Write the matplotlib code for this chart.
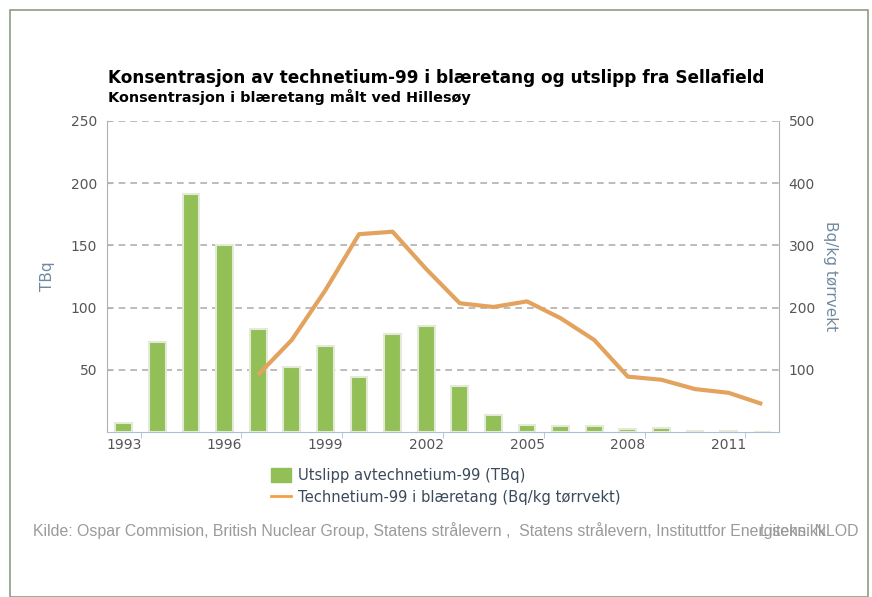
import numpy as np
import matplotlib.pyplot as plt
from matplotlib.patches import Rectangle, Patch
from matplotlib.lines import Line2D

years = list(range(1993, 2013))
utslipp = [7, 72, 191, 150, 83, 52, 69, 44, 79, 85, 37, 14, 6, 5, 5, 2.5, 3, 1, 1, 0]
tc_years = list(range(1997, 2013))
blaeretang = [92, 148, 228, 318, 322, 262, 207, 201, 210, 183, 148, 89, 84, 69, 63, 45]

x_labels = ['1993', '1996', '1999', '2002', '2005', '2008', '2011']

green = '#93bf57'
orange = '#e3a35e'
axis_col = '#6f8aa0'
tick_col = '#555555'

fig = plt.figure(figsize=(8.72, 5.97), dpi=100)
fig.patches.append(Rectangle((10 / 872, 0), 858 / 872, 1 - 10 / 597, transform=fig.transFigure,
                             fill=False, edgecolor='#8c9c84', linewidth=1.2))

ax = fig.add_axes([107 / 872, 1 - 432 / 597, 672 / 872, 311 / 597])
xs = np.arange(len(years))
ax.bar(xs, utslipp, width=0.5, color=green, edgecolor='#e4ead8', linewidth=1.5, zorder=3)
ax.set_xlim(-0.5, len(years) - 0.5)
ax.set_ylim(0, 250)
ax.set_yticks([50, 100, 150, 200, 250])
ax.yaxis.grid(True, linestyle=(0, (4, 3)), color='#b0b0b0', linewidth=1.2, zorder=0)
ax.set_xticks(xs[::3])
ax.set_xticklabels(x_labels)
ax.set_xticks(xs[::3] + 0.5, minor=True)
ax.tick_params(axis='x', which='major', length=0, pad=4, labelsize=10, labelcolor=tick_col)
ax.tick_params(axis='x', which='minor', length=4, color='#a8c0d8')
ax.tick_params(axis='y', length=3, direction='in', color='#b0b0b0', pad=7,
               labelsize=10, labelcolor=tick_col)
ax.set_ylabel('TBq', color=axis_col, fontsize=11)
ax.yaxis.set_label_coords(-52 / 672, 0.5)
ax.spines['top'].set_visible(False)
ax.spines['left'].set_color('#b0b0b0')
ax.spines['right'].set_color('#b0b0b0')
ax.spines['bottom'].set_color('#a8c0d8')

ax2 = ax.twinx()
tx = np.array([years.index(y) for y in tc_years])
ax2.plot(tx, blaeretang, color=orange, linewidth=3, solid_capstyle='butt', zorder=4)
ax2.set_ylim(0, 500)
ax2.set_yticks([100, 200, 300, 400, 500])
ax2.tick_params(axis='y', length=0, pad=7, labelsize=10, labelcolor=tick_col)
ax2.set_ylabel('Bq/kg tørrvekt', color=axis_col, fontsize=11, rotation=-90, va='center')
ax2.yaxis.set_label_coords(1 + 51 / 672, 0.5)
for s in ['top', 'left', 'right', 'bottom']:
    ax2.spines[s].set_visible(False)

fig.text(108 / 872, 1 - 78 / 597, 'Konsentrasjon av technetium-99 i blæretang og utslipp fra Sellafield',
         fontsize=12.2, fontweight='bold', va='center', ha='left')
fig.text(108 / 872, 1 - 97 / 597, 'Konsentrasjon i blæretang målt ved Hillesøy',
         fontsize=10.4, fontweight='bold', va='center', ha='left')

handles = [Patch(facecolor=green, edgecolor=green),
           Line2D([0], [0], color='#f5a040', linewidth=2)]
fig.legend(handles, ['Utslipp avtechnetium-99 (TBq)', 'Technetium-99 i blæretang (Bq/kg tørrvekt)'],
           loc='upper left', bbox_to_anchor=(264 / 872, 1 - 461 / 597), frameon=False,
           fontsize=10.6, labelcolor='#3a4a5a', handlelength=1.3, handleheight=1.1,
           handletextpad=0.5, labelspacing=0.45, borderpad=0)

src_font = ['Liberation Sans Narrow', 'Liberation Sans', 'DejaVu Sans']
fig.text(33 / 872, 1 - 531 / 597,
         'Kilde: Ospar Commision, British Nuclear Group, Statens strålevern ,  Statens strålevern, Instituttfor Energiteknikk',
         fontsize=11.4, color='#9a9a9a', va='center', ha='left', family=src_font)
fig.text(858 / 872, 1 - 531 / 597, 'Lisens: NLOD', fontsize=11.4, color='#9a9a9a',
         va='center', ha='right', family=src_font)

fig.savefig('out.png', dpi=100)
